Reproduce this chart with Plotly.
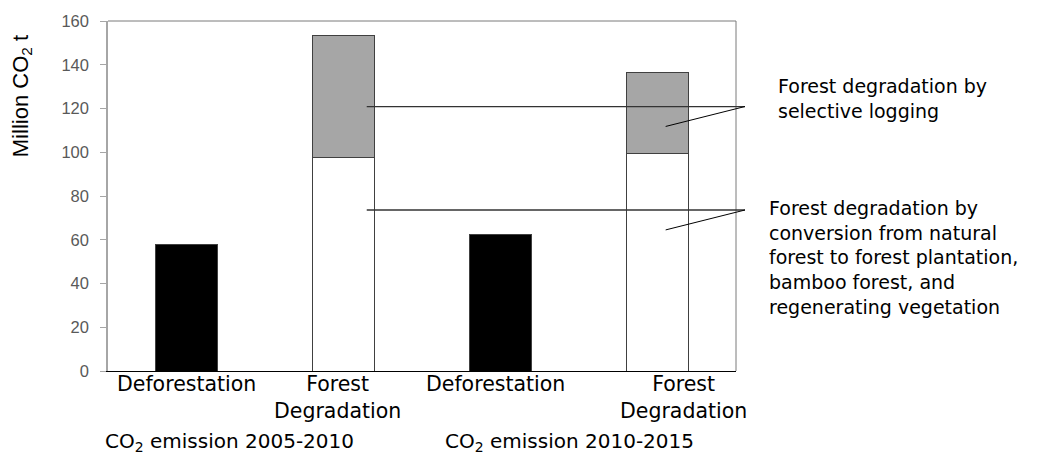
import plotly.graph_objects as go

# Category slots along the x axis (two periods, two emission types each)
slots = [0, 1, 2, 3]
slot_labels = ["Deforestation", "Forest<br>Degradation", "Deforestation", "Forest<br>Degradation"]
period_labels = ["CO<sub>2</sub> emission 2005-2010", "CO<sub>2</sub> emission 2010-2015"]

# Million t CO2
deforestation = [57.7, None, 62.3, None]
degradation_conversion = [None, 97.7, None, 99.5]
degradation_logging = [None, 55.8, None, 36.9]

y_ticks = [0, 20, 40, 60, 80, 100, 120, 140, 160]

logging_note = "Forest degradation by<br>selective logging"
conversion_note = ("Forest degradation by<br>conversion from natural<br>forest to forest plantation,"
                   "<br>bamboo forest, and<br>regenerating vegetation")

FONT = "DejaVu Sans"
BAR_W = 0.395
EDGE = dict(color="#404040", width=1)

fig = go.Figure()
fig.add_trace(go.Bar(x=slots, y=deforestation, width=BAR_W,
                     marker=dict(color="#000000", line=EDGE), showlegend=False))
fig.add_trace(go.Bar(x=slots, y=degradation_conversion, width=BAR_W,
                     marker=dict(color="#ffffff", line=EDGE), showlegend=False))
fig.add_trace(go.Bar(x=slots, y=degradation_logging, width=BAR_W,
                     marker=dict(color="#a6a6a6", line=EDGE), showlegend=False))

annotations = []
# category labels under each bar
label_shift = [0, -6, -5, 26]
for s, lab, dx in zip(slots, slot_labels, label_shift):
    annotations.append(dict(x=s, y=0, xref="x", yref="paper", yanchor="top", xanchor="center",
                            xshift=dx, yshift=1, text=lab, showarrow=False, align="center",
                            font=dict(family=FONT, size=20.5, color="#000000")))
# period labels
for px, lab in zip([-0.008, 0.5334], period_labels):
    annotations.append(dict(x=px, y=-0.16, xref="paper", yref="paper", xanchor="left",
                            yanchor="top", text=lab, showarrow=False,
                            font=dict(family=FONT, size=20, color="#000000")))
# y axis title
annotations.append(dict(x=-0.137, y=0.785, xref="paper", yref="paper", text="Million CO<sub>2</sub> t",
                        textangle=-90, showarrow=False, xanchor="center", yanchor="middle",
                        font=dict(family="Liberation Sans", size=22, color="#000000")))
# notes at the right
annotations.append(dict(x=1.0637, y=0.852, xref="paper", yref="paper", xanchor="left",
                        yanchor="top", align="left", text=logging_note, showarrow=False,
                        font=dict(family=FONT, size=19, color="#000000")))
annotations.append(dict(x=1.0494, y=0.502, xref="paper", yref="paper", xanchor="left",
                        yanchor="top", align="left", text=conversion_note, showarrow=False,
                        font=dict(family=FONT, size=19, color="#000000")))

# leader lines: x in paper units so they can run past the plot frame
LEAD = dict(color="#333333", width=1.3)
DIAG = dict(color="#000000", width=1)
lead_x0, lead_x1, diag_x = 0.412, 1.0143, 0.888
shapes = [
    # plot frame, top and right
    dict(type="line", xref="paper", yref="paper", x0=0, x1=1, y0=1, y1=1,
         line=dict(color="#7a7a7a", width=1)),
    dict(type="line", xref="paper", yref="paper", x0=1, x1=1, y0=0, y1=1,
         line=dict(color="#7a7a7a", width=1)),
    dict(type="line", xref="paper", yref="y", x0=lead_x0, x1=lead_x1, y0=120.9, y1=120.9, line=LEAD),
    dict(type="line", xref="paper", yref="y", x0=lead_x1, x1=diag_x, y0=120.9, y1=111.8, line=DIAG),
    dict(type="line", xref="paper", yref="y", x0=lead_x0, x1=lead_x1, y0=73.6, y1=73.6, line=LEAD),
    dict(type="line", xref="paper", yref="y", x0=lead_x1, x1=diag_x, y0=73.6, y1=64.5, line=DIAG),
]

fig.update_layout(
    width=1039, height=461,
    margin=dict(l=108, r=303, t=19, b=90),
    barmode="stack",
    plot_bgcolor="#ffffff", paper_bgcolor="#ffffff",
    annotations=annotations,
    shapes=shapes,
    xaxis=dict(range=[-0.5, 3.5], showticklabels=False, ticks="", showgrid=False,
               zeroline=False, showline=True, linecolor="#000000", linewidth=1, fixedrange=True),
    yaxis=dict(range=[0, 160], tickvals=y_ticks, ticks="outside", ticklen=6,
               tickcolor="#a6a6a6", showgrid=False, zeroline=False, showline=True,
               linecolor="#a6a6a6", linewidth=1.5, ticklabelstandoff=8,
               tickfont=dict(family="Liberation Sans", size=16.5, color="#595959")),
)

fig.write_html("out.html", config={"displayModeBar": False})
